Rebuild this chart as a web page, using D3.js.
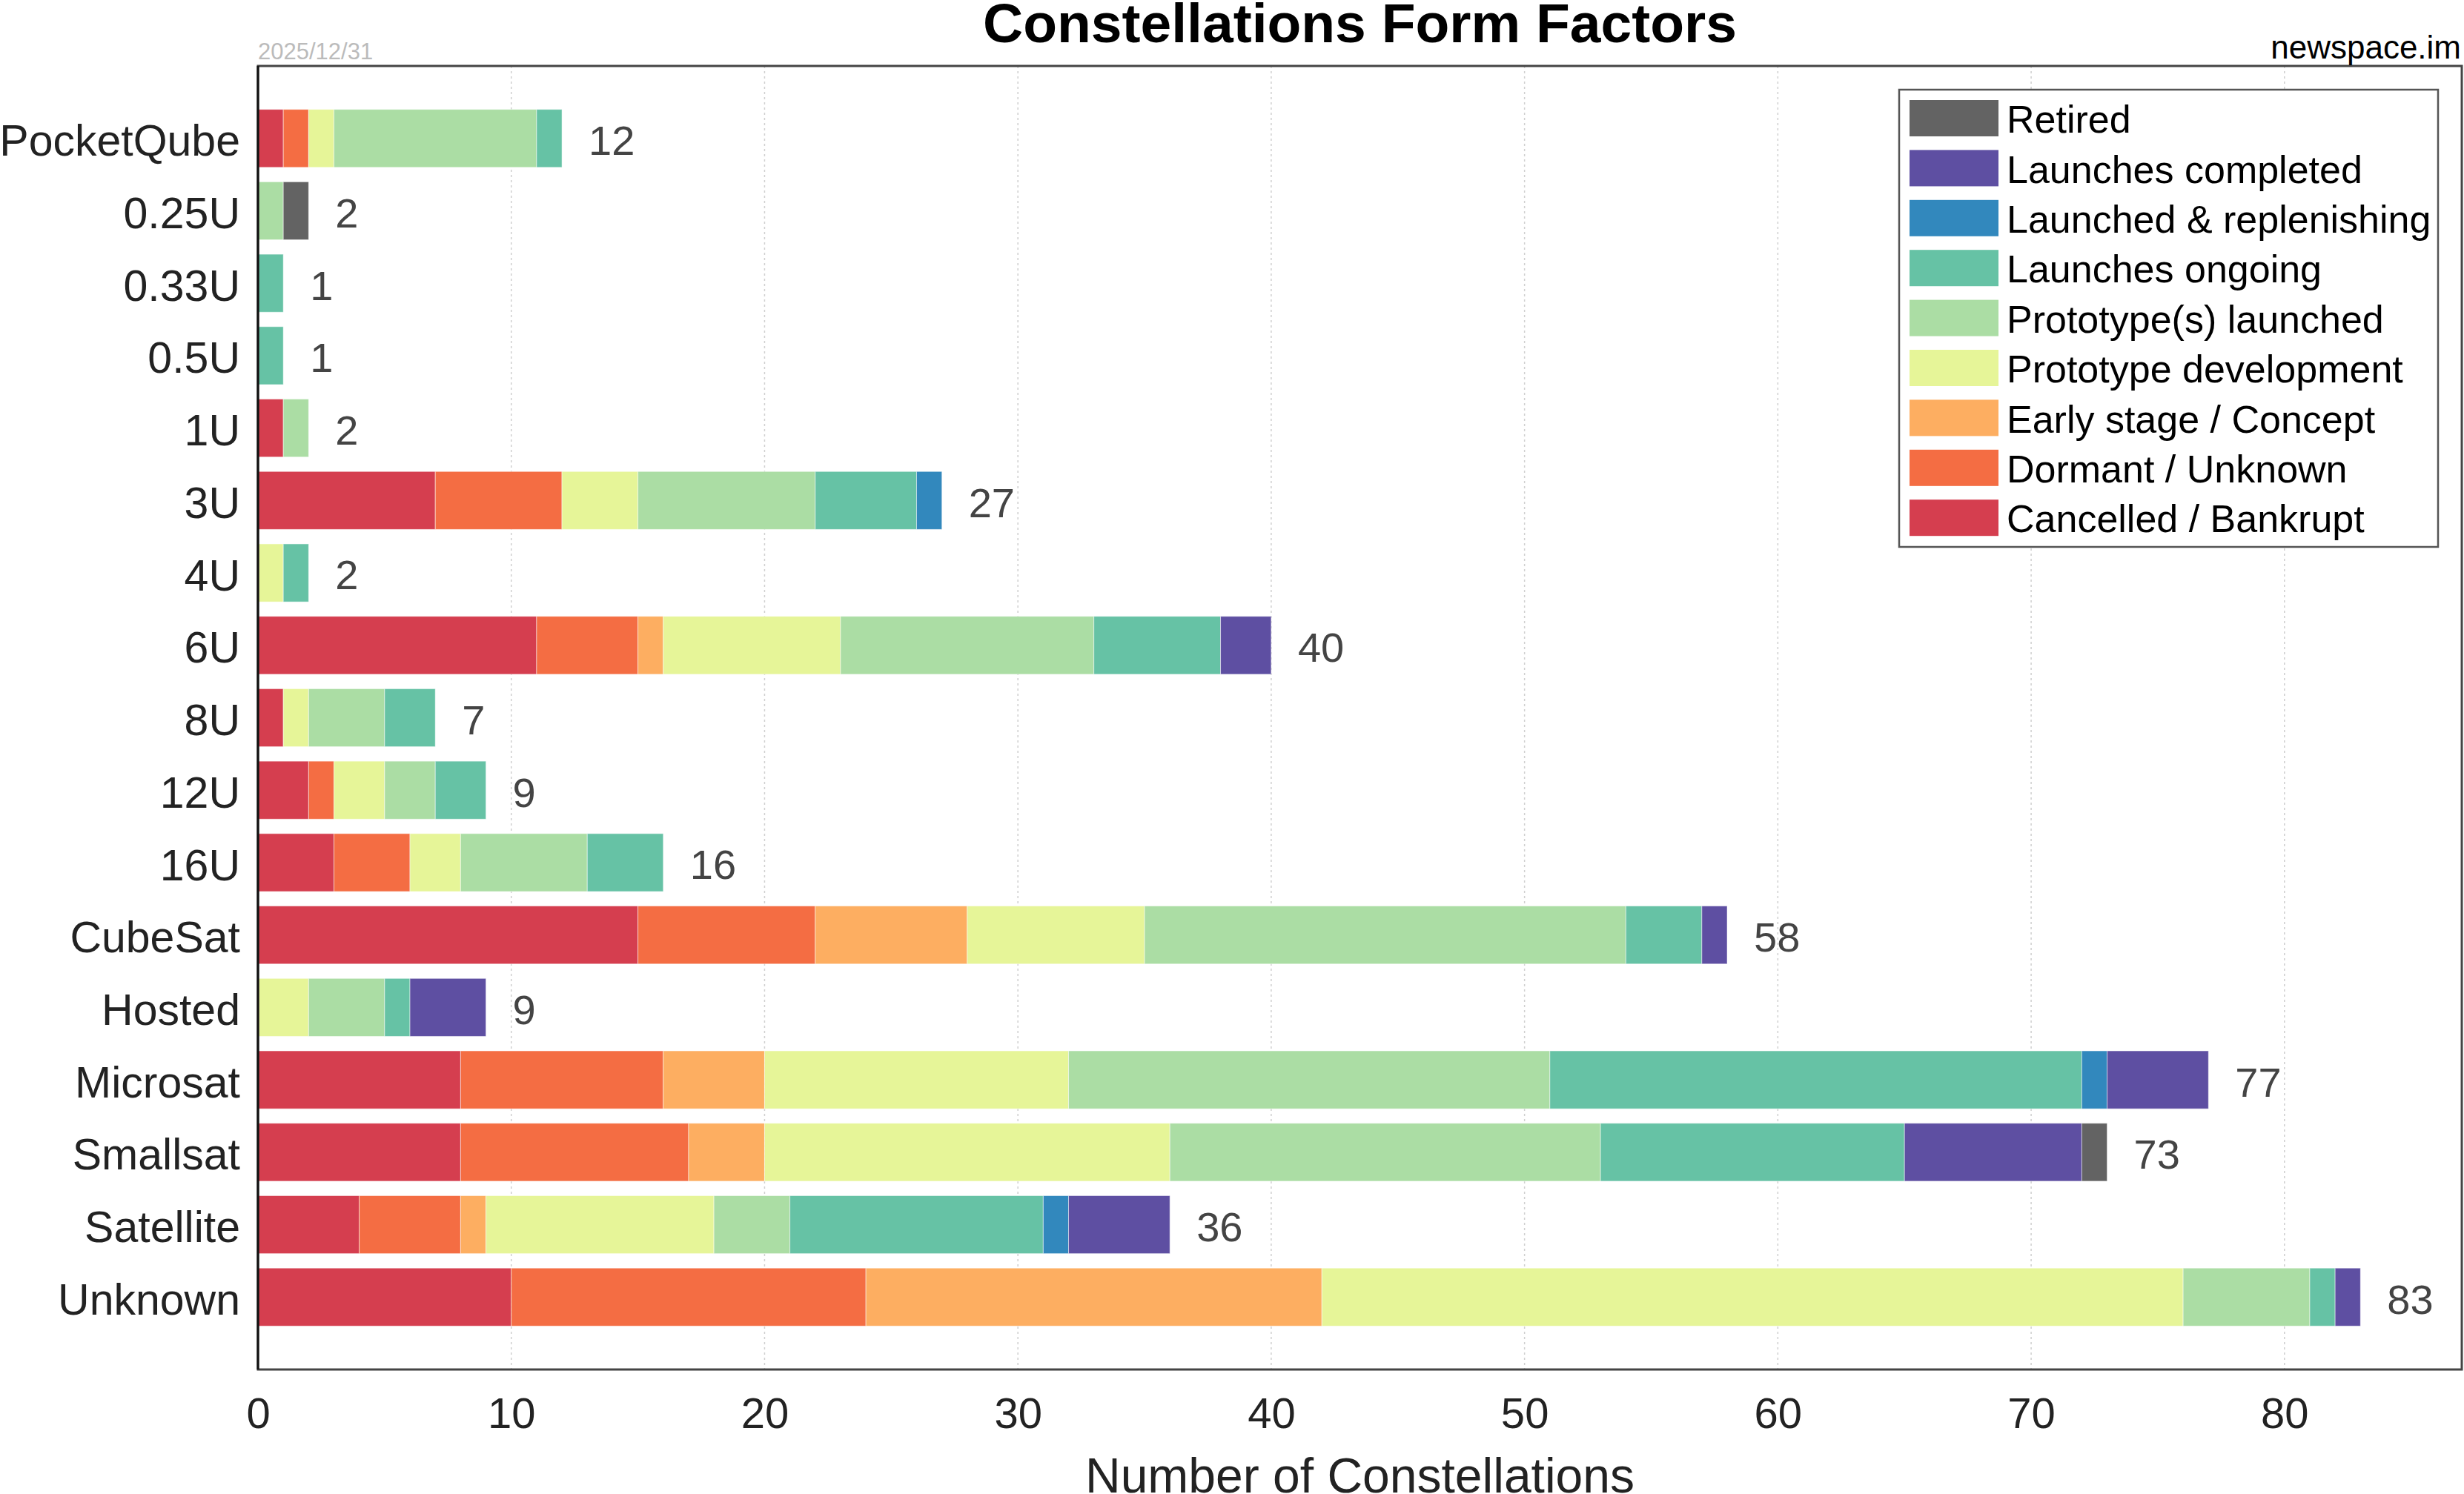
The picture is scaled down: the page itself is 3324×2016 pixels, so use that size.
<!DOCTYPE html>
<html>
<head>
<meta charset="utf-8">
<script src="https://cdn.jsdelivr.net/npm/d3@7"></script>
<style>
  body { margin: 0; background: #fff; }
  svg text { font-family: "Liberation Sans", Arial, sans-serif; }
</style>
</head>
<body>
<div id="chart"></div>
<script>
// ######### DATA ###########
var categories = ["PocketQube", "0.25U", "0.33U", "0.5U", "1U", "3U", "4U", "6U", "8U",
    "12U", "16U", "CubeSat", "Hosted", "Microsat", "Smallsat", "Satellite", "Unknown"];

// status names, in stacking order (left to right)
var statuses = ["Cancelled / Bankrupt", "Dormant / Unknown", "Early stage / Concept",
    "Prototype development", "Prototype(s) launched", "Launches ongoing",
    "Launched & replenishing", "Launches completed", "Retired"];

var cancelled     = [1, 0, 0, 0, 1, 7, 0, 11, 1, 2, 3, 15, 0, 8, 8, 4, 10];
var dormant       = [1, 0, 0, 0, 0, 5, 0, 4, 0, 1, 3, 7, 0, 8, 9, 4, 14];
var earlyStage    = [0, 0, 0, 0, 0, 0, 0, 1, 0, 0, 0, 6, 0, 4, 3, 1, 18];
var protoDev      = [1, 0, 0, 0, 0, 3, 1, 7, 1, 2, 2, 7, 2, 12, 16, 9, 34];
var protoLaunched = [8, 1, 0, 0, 1, 7, 0, 10, 3, 2, 5, 19, 3, 19, 17, 3, 5];
var ongoing       = [1, 0, 1, 1, 0, 4, 1, 5, 2, 2, 3, 3, 1, 21, 12, 10, 1];
var replenishing  = [0, 0, 0, 0, 0, 1, 0, 0, 0, 0, 0, 0, 0, 1, 0, 1, 0];
var completed     = [0, 0, 0, 0, 0, 0, 0, 2, 0, 0, 0, 1, 3, 4, 7, 4, 1];
var retired       = [0, 1, 0, 0, 0, 0, 0, 0, 0, 0, 0, 0, 0, 0, 1, 0, 0];

var xTicks = [0, 10, 20, 30, 40, 50, 60, 70, 80];

var colors = ["#d53e4f", "#f46d43", "#fdae61", "#e6f598", "#abdda4",
    "#66c2a5", "#3288bd", "#5e4fa2", "#636363"];

// ######### LAYOUT ###########
var width = 3324, height = 2016;
var plotLeft = 348, plotRight = 3321, plotTop = 89, plotBottom = 1848;

var series = [cancelled, dormant, earlyStage, protoDev, protoLaunched,
    ongoing, replenishing, completed, retired];

var rows = categories.map(function(c, i) {
    var r = {name: c};
    statuses.forEach(function(s, k) { r[s] = series[k][i]; });
    return r;
});

var stacked = d3.stack().keys(statuses)(rows);
var totals = stacked[stacked.length - 1].map(function(d) { return d[1]; });

var x = d3.scaleLinear().domain([0, 87]).range([plotLeft, plotRight]);
var y = d3.scaleBand().domain(categories).range([plotTop, plotBottom])
    .paddingInner(0.2).paddingOuter(0.6);
var color = d3.scaleOrdinal().domain(statuses).range(colors);

var svg = d3.select("#chart").append("svg")
    .attr("width", width)
    .attr("height", height);

// grid lines
svg.append("g").selectAll("line")
    .data(xTicks.slice(1))
    .enter().append("line")
    .attr("x1", function(d) { return x(d); })
    .attr("x2", function(d) { return x(d); })
    .attr("y1", plotTop)
    .attr("y2", plotBottom)
    .attr("stroke", "#cfcfcf")
    .attr("stroke-width", 1.5)
    .attr("stroke-dasharray", "3,4");

// bars
svg.append("g").selectAll("g")
    .data(stacked)
    .enter().append("g")
    .attr("fill", function(d) { return color(d.key); })
    .selectAll("rect")
    .data(function(d) { return d.filter(function(s) { return s[1] > s[0]; }); })
    .enter().append("rect")
    .attr("x", function(d) { return x(d[0]); })
    .attr("y", function(d) { return y(d.data.name); })
    .attr("width", function(d) { return x(d[1]) - x(d[0]); })
    .attr("height", y.bandwidth())
    .attr("stroke", "#fff")
    .attr("stroke-width", 1)
    .attr("stroke-opacity", 0.5);

// totals
svg.append("g").selectAll("text")
    .data(rows)
    .enter().append("text")
    .attr("x", function(d, i) { return x(totals[i]) + 36; })
    .attr("y", function(d) { return y(d.name) + y.bandwidth() / 2; })
    .attr("dy", "0.4em")
    .attr("fill", "#444")
    .style("font-size", "56px")
    .text(function(d, i) { return totals[i]; });

// frame
svg.append("rect")
    .attr("x", plotLeft).attr("y", plotTop)
    .attr("width", plotRight - plotLeft).attr("height", plotBottom - plotTop)
    .attr("fill", "none")
    .attr("stroke", "#444")
    .attr("stroke-width", 3);
svg.append("line")
    .attr("x1", plotLeft).attr("x2", plotLeft).attr("y1", plotTop).attr("y2", plotBottom)
    .attr("stroke", "#111").attr("stroke-width", 3);

// axes
var yAxis = d3.axisLeft(y).tickSize(0).tickPadding(24);
svg.append("g")
    .attr("transform", "translate(" + plotLeft + ",0)")
    .call(yAxis)
    .call(function(g) { g.select(".domain").remove(); })
    .selectAll("text")
    .attr("fill", "#222")
    .attr("dy", "0.4em")
    .style("font-size", "59px")
    .style("font-family", "'Liberation Sans', Arial, sans-serif");

var xAxis = d3.axisBottom(x).tickValues(xTicks).tickSize(0).tickPadding(38);
svg.append("g")
    .attr("transform", "translate(0," + plotBottom + ")")
    .call(xAxis)
    .call(function(g) { g.select(".domain").remove(); })
    .selectAll("text")
    .attr("fill", "#222")
    .style("font-size", "58px")
    .style("font-family", "'Liberation Sans', Arial, sans-serif");

// titles
svg.append("text")
    .attr("x", (plotLeft + plotRight) / 2).attr("y", 57)
    .attr("text-anchor", "middle")
    .style("font-size", "75px").style("font-weight", "bold")
    .text("Constellations Form Factors");

svg.append("text")
    .attr("x", (plotLeft + plotRight) / 2).attr("y", 2014)
    .attr("text-anchor", "middle")
    .attr("fill", "#222")
    .style("font-size", "66px")
    .text("Number of Constellations");

svg.append("text")
    .attr("x", plotLeft).attr("y", 80)
    .attr("fill", "#bbb")
    .style("font-size", "31px")
    .text("2025/12/31");

svg.append("text")
    .attr("x", 3320).attr("y", 79)
    .attr("text-anchor", "end")
    .style("font-size", "44px")
    .text("newspace.im");

// legend
var legend = svg.append("g");
legend.append("rect")
    .attr("x", 2562).attr("y", 121)
    .attr("width", 3289 - 2562).attr("height", 738 - 121)
    .attr("fill", "#fff")
    .attr("stroke", "#555")
    .attr("stroke-width", 2.5);

var legendItems = legend.selectAll("g.item")
    .data(statuses.slice().reverse())
    .enter().append("g")
    .attr("class", "item")
    .attr("transform", function(d, i) { return "translate(2576," + (135 + i * 67.4) + ")"; });

legendItems.append("rect")
    .attr("width", 120).attr("height", 49)
    .attr("fill", function(d) { return color(d); });

legendItems.append("text")
    .attr("x", 131).attr("y", 24.5)
    .attr("dy", "0.38em")
    .attr("fill", "#000")
    .style("font-size", "52px")
    .text(function(d) { return d; });
</script>
</body>
</html>
